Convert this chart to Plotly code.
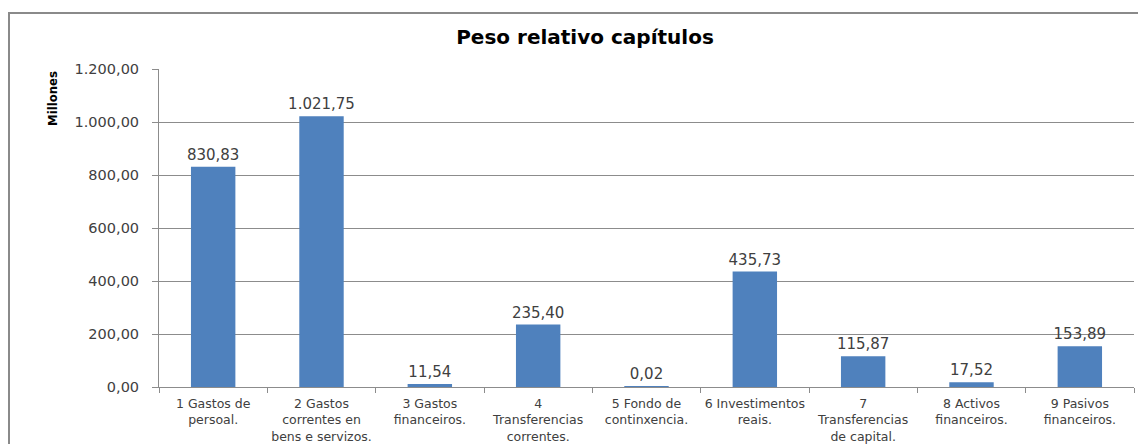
import plotly.graph_objects as go

categories = [
    "1 Gastos de<br>persoal.",
    "2 Gastos<br>correntes en<br>bens e servizos.",
    "3 Gastos<br>financeiros.",
    "4<br>Transferencias<br>correntes.",
    "5 Fondo de<br>continxencia.",
    "6 Investimentos<br>reais.",
    "7<br>Transferencias<br>de capital.",
    "8 Activos<br>financeiros.",
    "9 Pasivos<br>financeiros.",
]
values = [830.83, 1021.75, 11.54, 235.40, 0.02, 435.73, 115.87, 17.52, 153.89]
y_ticks = [0, 200, 400, 600, 800, 1000, 1200]

FONT = "DejaVu Sans, Open Sans, sans-serif"
GRID = "#8c8c8c"
TXT = "#404040"

# figure is placed with an 8px page offset; plot area in figure pixels
W, H = 1138, 436
L, R, T, B = 151, 12, 61, 57
PW, PH = W - L - R, H - T - B

fig = go.Figure(
    go.Bar(
        x=categories,
        y=values,
        marker=dict(color="#4F81BD", line=dict(width=0)),
        texttemplate="%{y:,.2f}",
        textposition="outside",
        constraintext="none",
        textfont=dict(family=FONT, size=15, color=TXT),
        cliponaxis=False,
        width=0.41,
    )
)

fig.update_layout(
    width=W,
    height=H,
    margin=dict(l=L, r=R, t=T, b=B, autoexpand=False),
    paper_bgcolor="white",
    plot_bgcolor="white",
    separators=",.",
    showlegend=False,
    title=dict(
        text="<b>Peso relativo capítulos</b>",
        x=577 / W,
        xanchor="center",
        y=1 - 29 / H,
        yanchor="middle",
        font=dict(family=FONT, size=20, color="black"),
    ),
    xaxis=dict(
        automargin=False,
        showgrid=False,
        showline=True,
        linecolor=GRID,
        linewidth=1,
        ticks="outside",
        tickson="boundaries",
        ticklen=5,
        tickcolor=GRID,
        ticklabelstandoff=5,
        tickfont=dict(family=FONT, size=12.5, color=TXT),
        tickangle=0,
    ),
    yaxis=dict(
        automargin=False,
        range=[0, 1200],
        tickvals=y_ticks,
        tickformat=",.2f",
        showgrid=True,
        gridcolor=GRID,
        gridwidth=1,
        showline=True,
        linecolor=GRID,
        ticks="outside",
        ticklen=6,
        tickcolor=GRID,
        ticklabelstandoff=10,
        tickfont=dict(family=FONT, size=14.5, color=TXT),
        zeroline=False,
    ),
    shapes=[
        dict(
            type="rect",
            xref="paper",
            yref="paper",
            x0=(1 - L) / PW,
            x1=1.2,
            y0=-0.5,
            y1=(H - B - 5) / PH,
            line=dict(color="#8a8a8a", width=2),
            fillcolor="rgba(0,0,0,0)",
            layer="below",
        )
    ],
    annotations=[
        dict(
            text="<b>Millones</b>",
            xref="paper",
            yref="paper",
            x=(44 - L) / PW,
            y=(H - B - 91) / PH,
            textangle=-90,
            showarrow=False,
            xanchor="center",
            yanchor="middle",
            font=dict(family="DejaVu Sans Condensed, Liberation Sans Narrow, sans-serif", size=13, color="black", weight="bold"),
        )
    ],
)

fig.write_html("out.html")
